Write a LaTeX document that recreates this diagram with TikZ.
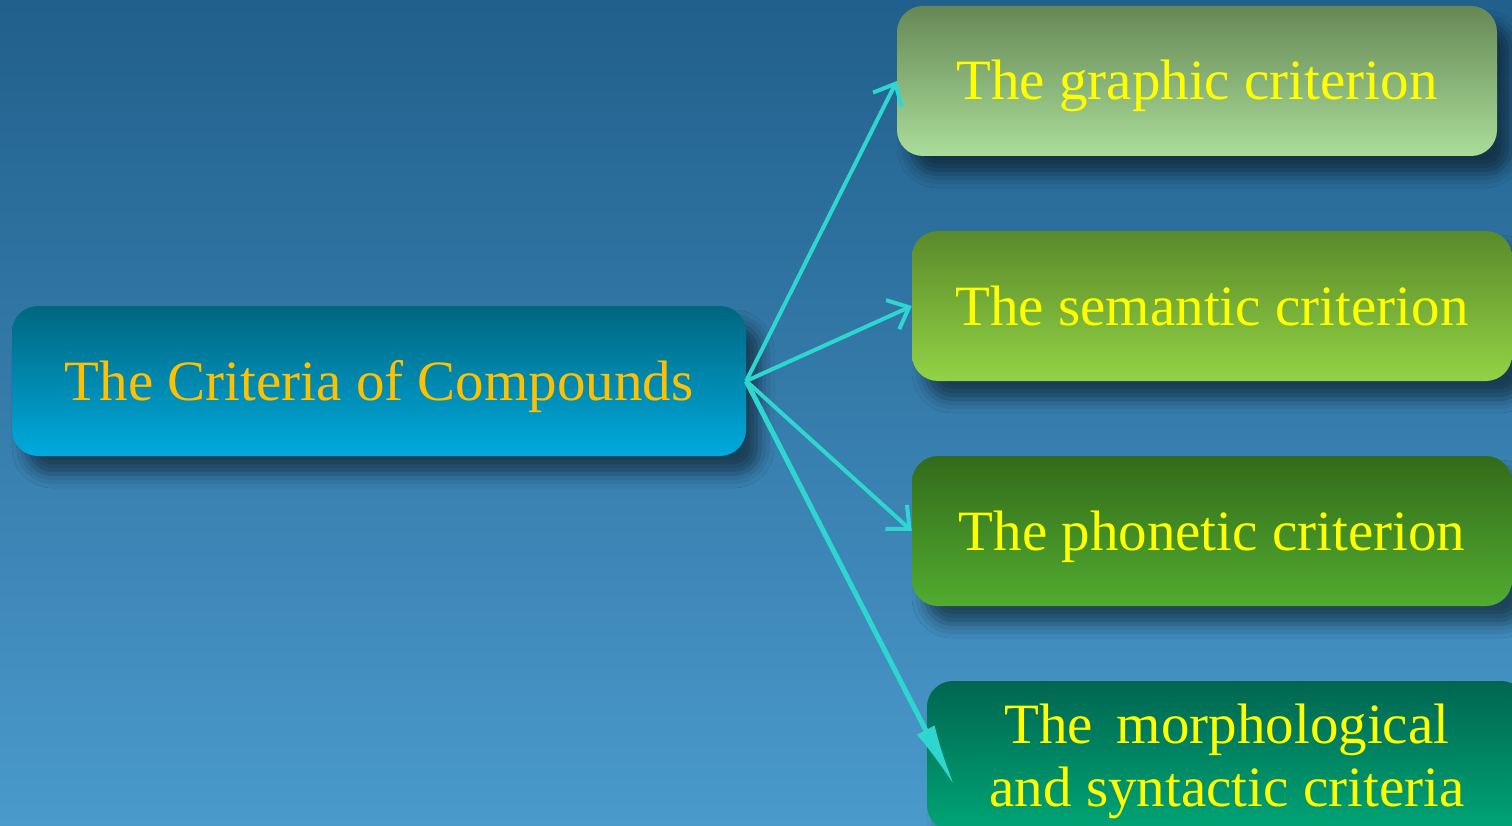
\documentclass[tikz,border=0pt]{standalone}
\usepackage{fontspec}
\setmainfont{Liberation Serif}
\usepackage{tikz}
\usetikzlibrary{arrows.meta,shadows.blur}
\definecolor{bgtop}{HTML}{215F8C}
\definecolor{bgbot}{HTML}{4A9ACC}
\definecolor{arrowc}{HTML}{2FD6D0}
\definecolor{gold}{HTML}{FFC000}
\definecolor{yel}{HTML}{FFFF00}
\definecolor{roottop}{HTML}{006680}
\definecolor{rootbot}{HTML}{00AADD}
\definecolor{graphtop}{HTML}{668855}
\definecolor{graphbot}{HTML}{AADD99}
\definecolor{semtop}{HTML}{5A8A2A}
\definecolor{sembot}{HTML}{92D245}
\definecolor{phontop}{HTML}{336B1A}
\definecolor{phonbot}{HTML}{52AC30}
\definecolor{morphtop}{HTML}{006650}
\definecolor{morphbot}{HTML}{00A575}
\newcommand{\boxfont}{\fontsize{57}{63}\selectfont}

\begin{document}
\begin{tikzpicture}[
  x=1pt,y=-1pt,
  box/.style={rounded corners=26pt,minimum width=600pt,minimum height=150pt,inner sep=0pt,
    align=center,font=\boxfont,text=yel,text height=38pt,text depth=0pt,
    blur shadow={shadow xshift=14pt,shadow yshift=-18pt,shadow blur radius=14pt,shadow opacity=50}},
  link/.style={arrowc,line width=4pt,-{Straight Barb[length=18pt,width=32pt,line width=4pt]}},
]
\clip (0,0) rectangle (1512,826);
\fill[top color=bgtop,bottom color=bgbot] (0,0) rectangle (1512,826);

\node[box,minimum width=734pt,top color=roottop,bottom color=rootbot,text=gold] at (379,381) (root) {The Criteria of Compounds};
\node[box,top color=graphtop,bottom color=graphbot] at (1197,81) (graphic) {The graphic criterion};
\node[box,top color=semtop,bottom color=sembot] at (1212,306) (semantic) {The semantic criterion};
\node[box,top color=phontop,bottom color=phonbot] at (1212,531) (phonetic) {The phonetic criterion};
\node[box,text height=101pt,top color=morphtop,bottom color=morphbot] at (1227,756) (morph) {The\, morphological\\and syntactic criteria};
\coordinate (morphtip) at (955,787);

\draw[link] (root.east) -- (graphic.west);
\draw[link] (root.east) -- (semantic.west);
\draw[link] (root.east) -- (phonetic.west);
\draw[arrowc,line width=5pt,-{Latex[length=64pt,width=20pt]}] (root.east) -- (morphtip);
\end{tikzpicture}
\end{document}
